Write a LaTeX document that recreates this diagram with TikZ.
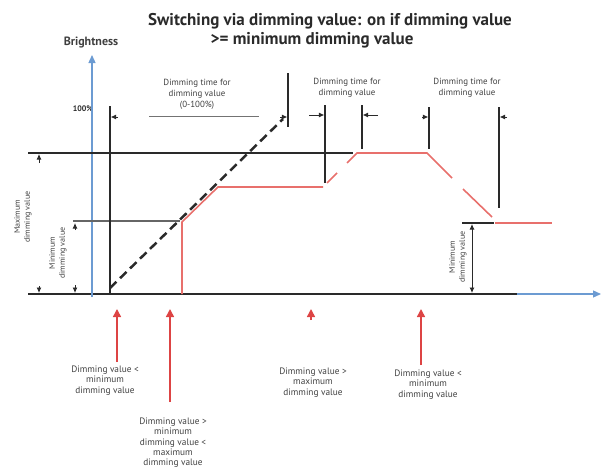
\documentclass[tikz,border=0pt]{standalone}
\usepackage{fontspec}
\setmainfont{PT Sans}
\usetikzlibrary{arrows.meta}
\definecolor{axblue}{HTML}{6C9BD2}
\definecolor{curvered}{HTML}{E8706C}
\definecolor{arrred}{HTML}{DD4444}
\definecolor{ink}{HTML}{2A2A2A}
\begin{document}
\begin{tikzpicture}[x=1pt,y=-1pt,
  blk/.style={line width=1.3pt,draw=ink},
  thinln/.style={line width=0.9pt,draw=ink},
  greyln/.style={line width=1pt,draw=black!55},
  redln/.style={line width=1.6pt,draw=curvered},
  tip/.style={-{Latex[length=5.5pt,width=5pt]},line width=0.9pt,draw=ink},
  dtip/.style={{Latex[length=5.5pt,width=5pt]}-{Latex[length=5.5pt,width=5pt]},line width=0.8pt,draw=ink},
  small/.style={font=\fontsize{8.9}{11}\selectfont,align=center,text=black!75,inner sep=0pt},
  note/.style={font=\fontsize{9.3}{10.2}\selectfont,align=center,text=black!75,inner sep=0pt},
  rot/.style={font=\fontsize{8}{10}\selectfont,align=center,text=black!75,inner sep=0pt,rotate=90},
  redarr/.style={-{Triangle[length=8pt,width=8pt]},line width=1.5pt,draw=arrred},
]
\useasboundingbox (0,0) rectangle (602,469);

% title
\node[font=\fontsize{17}{19}\selectfont\bfseries,text=ink,inner sep=0pt] (t1) at (330,21) {Switching via dimming value: on if dimming value};
\node[font=\fontsize{17}{19}\selectfont\bfseries,text=ink,inner sep=0pt] (t2) at (312,40) {>= minimum dimming value};
\node[font=\fontsize{12}{14}\selectfont\bfseries,text=ink!90,inner sep=0pt] (bright) at (91,43) {Brightness};
\node[font=\fontsize{8}{9}\selectfont\bfseries,text=ink,inner sep=0pt] (pct) at (83,109) {100\%};

% coordinates
\coordinate (o) at (92,294);
\coordinate (ytop) at (92,55);
\coordinate (xend) at (601,294);
\coordinate (xsplit) at (517,294);

% axes
\draw[blk] (28,294) -- (xsplit);
\draw[line width=1.3pt,draw=axblue,-{Triangle[length=8pt,width=7pt]}] (xsplit) -- (xend);
\draw[line width=1.3pt,draw=axblue,-{Triangle[length=8pt,width=7pt]}] (92,297) -- (ytop);

% level lines
\draw[blk] (28,153) -- (353,153);
\draw[line width=1.3pt,draw=black!60] (73,221) -- (180,221);
\draw[blk] (462,223) -- (494,223);

% vertical markers
\draw[blk] (110,106) -- (110,294);
\draw[blk] (288,73) -- (288,127);
\draw[blk] (325,105) -- (325,183);
\draw[blk] (362,105) -- (362,149);
\draw[blk] (429,107) -- (429,149);
\draw[blk] (499,107) -- (499,208);

% dimension tips
\draw[tip] (118,117) -- (110.6,117);
\draw[greyln] (149,116) -- (259,116);
\draw[tip] (309,115) -- (324.4,115);
\draw[tip] (378,115) -- (362.6,115);
\draw[tip] (422,117) -- (428.4,117);
\draw[tip] (507,117) -- (499.6,117);

% dashed ramp
\draw[line width=2.5pt,draw=ink,dash pattern=on 9pt off 5pt] (110,288) -- (283,119);
\draw[tip] (280,117) -- (287.4,117);

% red curve
\draw[redln] (182,294) -- (182,222) -- (218,187) -- (323,187);
\draw[redln] (327,183) -- (337,173);
\draw[redln] (347,163) -- (357,153) -- (427,153) -- (452,178);
\draw[redln] (463,189) -- (492,217);
\draw[redln] (495,223) -- (552,223);

% dimension arrows (levels)
\draw[tip] (39,163) -- (39,154);
\draw[tip] (39,286) -- (39,293);
\draw[tip] (75,230) -- (75,223);
\draw[tip] (75,285) -- (75,293);
\draw[dtip] (472,224) -- (472,293);

% rotated labels
\node[rot] (maxlbl) at (23,217) {Maximum\\dimming value};
\node[rot] (minlbl) at (58,253) {Minimum\\dimming value};
\node[rot] (minlbl2) at (458,257) {Minimum\\dimming value};

% top labels
\node[small] (dt1) at (197,94) {Dimming time for\\dimming value\\(0-100\%)};
\node[small] (dt2) at (347,88) {Dimming time for\\dimming value};
\node[small] (dt3) at (467,88) {Dimming time for\\dimming value};

% bottom notes
\node[note,anchor=north] (n1) at (105,366) {Dimming value <\\minimum\\dimming value};
\node[note,anchor=north] (n2) at (173,418) {Dimming value >\\minimum\\dimming value <\\maximum\\dimming value};
\node[note,anchor=north] (n3) at (313,368) {Dimming value >\\maximum\\dimming value};
\node[note,anchor=north] (n4) at (428,370) {Dimming value <\\minimum\\dimming value};

\coordinate (a1) at (117,309);
\coordinate (a2) at (170,309);
\coordinate (a3) at (311,309);
\coordinate (a4) at (421,309);
\draw[redarr] (117,362) -- (a1);
\draw[redarr] (170,402) -- (a2);
\draw[redarr] (311,320) -- (a3);
\draw[redarr] (421,365) -- (a4);
\end{tikzpicture}
\end{document}
